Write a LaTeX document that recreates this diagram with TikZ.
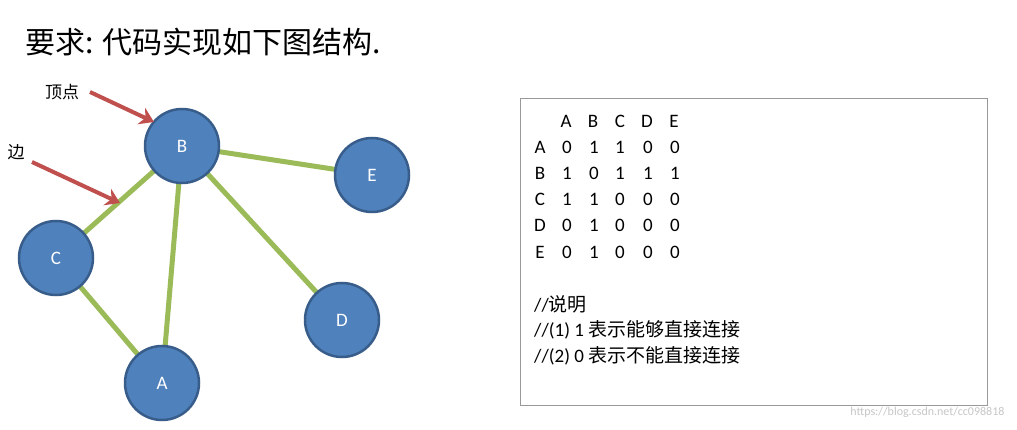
\documentclass[tikz,border=0pt]{standalone}
\usepackage{fontspec}
\setmainfont{Carlito}
\newfontfamily\cjk{Noto Sans CJK SC}
\usetikzlibrary{arrows.meta}
\definecolor{nfill}{RGB}{79,129,189}
\definecolor{nborder}{RGB}{56,93,138}
\definecolor{egreen}{RGB}{155,187,89}
\definecolor{ared}{RGB}{192,80,77}
\tikzset{vert/.style={circle,fill=nfill,draw=nborder,line width=2.5pt,minimum size=74pt,inner sep=0pt,text=white,font=\fontsize{19}{19}\selectfont},
edge/.style={egreen,line width=5pt},
pointer/.style={ared,line width=4pt,-{Stealth[length=14pt,width=18pt]}},
cell/.style={font=\fontsize{19}{19}\selectfont,inner sep=0pt}}
\begin{document}
\begin{tikzpicture}[x=1pt,y=-1pt]
\useasboundingbox (0,0) rectangle (1017,430);
\node[anchor=west,font=\fontsize{30}{30}\selectfont\cjk] (title) at (22,42) {要求: 代码实现如下图结构.};
\coordinate (B) at (182,146);
\coordinate (E) at (372,175);
\coordinate (C) at (56,258);
\coordinate (A) at (162,383);
\coordinate (D) at (342,320);
\draw[edge] (B) -- (E);
\draw[edge] (B) -- (C);
\draw[edge] (B) -- (A);
\draw[edge] (B) -- (D);
\draw[edge] (C) -- (A);
\node[vert] (nB) at (B) {B};
\node[vert] (nE) at (E) {E};
\node[vert] (nC) at (C) {C};
\node[vert] (nA) at (A) {A};
\node[vert] (nD) at (D) {D};
\node[font=\fontsize{17}{17}\selectfont\cjk] (lv) at (62,92) {顶点};
\node[font=\fontsize{17}{17}\selectfont\cjk] (le) at (16,152) {边};
\coordinate (p1s) at (90,92); \coordinate (p1e) at (154,122);
\coordinate (p2s) at (32,162); \coordinate (p2e) at (120,203);
\draw[pointer] (p1s) -- (p1e);
\draw[pointer] (p2s) -- (p2e);
\node[draw=gray!80,line width=1pt,minimum width=467pt,minimum height=307pt,anchor=north west] (box) at (520,98) {};
\foreach \t/\x in {A/566,B/593,C/620,D/647,E/674}{\node[cell] at (\x,121) {\t};}
\foreach \r/\y/\a/\b/\c/\d/\e in {A/147/0/1/1/0/0,B/173/1/0/1/1/1,C/199/1/1/0/0/0,D/225/0/1/0/0/0,E/252/0/1/0/0/0}{
 \node[cell] at (540,\y) {\r};
 \node[cell] at (567,\y) {\a};
 \node[cell] at (594,\y) {\b};
 \node[cell] at (620,\y) {\c};
 \node[cell] at (648,\y) {\d};
 \node[cell] at (675,\y) {\e};
}
\node[cell,anchor=west] at (534,304) {//{\cjk 说明}};
\node[cell,anchor=west] at (534,330) {//(1) 1 {\cjk 表示能够直接连接}};
\node[cell,anchor=west] at (534,356) {//(2) 0 {\cjk 表示不能直接连接}};
\node[anchor=east,text=gray!45,font=\fontsize{12}{12}\selectfont] (wm) at (1008,412) {https://blog.csdn.net/cc098818};
\end{tikzpicture}
\end{document}
